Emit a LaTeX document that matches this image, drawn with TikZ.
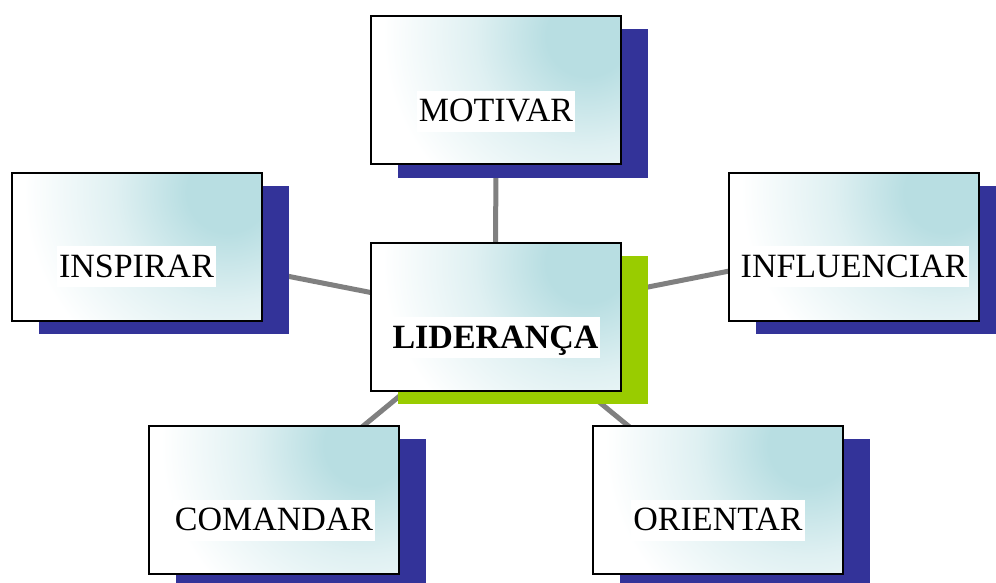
\documentclass[tikz,border=0pt]{standalone}
\usepackage{fontspec}
\setmainfont{Liberation Serif}
\usetikzlibrary{shadows,backgrounds,calc}
\definecolor{tealc}{RGB}{184,222,226}
\definecolor{navyc}{RGB}{51,51,153}
\definecolor{greenc}{RGB}{153,204,0}
\definecolor{linec}{RGB}{128,128,128}
\pgfdeclareradialshading{tealglow}{\pgfpoint{0bp}{0bp}}{color(0bp)=(tealc); color(4.7bp)=(tealc); color(13bp)=(tealc!45!white); color(23.6bp)=(white); color(50bp)=(white)}
\tikzset{
  box/.style={draw=black, line width=2pt, fill=white, minimum width=250pt, minimum height=148pt, inner sep=0pt,
    path picture={\shade[shading=tealglow] ($(path picture bounding box.north east)+(-30,20)$) circle (212pt);}},
  navyshadow/.style={drop shadow={shadow xshift=27pt, shadow yshift=-13pt, fill=navyc, opacity=1, draw=none}},
  greenshadow/.style={drop shadow={shadow xshift=27pt, shadow yshift=-13pt, fill=greenc, opacity=1, draw=none}},
  lbl/.style={fill=white, inner xsep=2pt, inner ysep=2pt, text height=29pt, text depth=8pt, font=\fontsize{34}{40}\selectfont},
  conn/.style={draw=linec, line width=5pt}
}
\begin{document}
\begin{tikzpicture}[x=1pt,y=-1pt]
\useasboundingbox (0,0) rectangle (996,583);
\node[box,navyshadow] (mot) at (496,90.5) {};
\node[box,navyshadow] (ins) at (136.5,246.5) {};
\node[box,navyshadow] (inf) at (854,246.5) {};
\node[box,navyshadow] (com) at (274,499.5) {};
\node[box,navyshadow] (ori) at (718,499.5) {};
\node[box,greenshadow] (lid) at (495.5,317) {};
\node[lbl] (motT) at (496,111.5) {MOTIVAR};
\node[lbl] (insT) at (136.5,266.5) {INSPIRAR};
\node[lbl] (infT) at (854,266.5) {INFLUENCIAR};
\node[lbl] (comT) at (274,520) {COMANDAR};
\node[lbl] (oriT) at (718,520) {ORIENTAR};
\node[lbl,font=\fontsize{34}{40}\selectfont\bfseries] (lidT) at (495.5,337.5) {LIDERANÇA};
\begin{scope}[on background layer]
\draw[conn] (lid.center) -- (mot.center);
\draw[conn] (lid.center) -- (ins.center);
\draw[conn] (lid.center) -- (inf.center);
\draw[conn] (lid.center) -- (com.center);
\draw[conn] (lid.center) -- (ori.center);
\end{scope}
\end{tikzpicture}
\end{document}
